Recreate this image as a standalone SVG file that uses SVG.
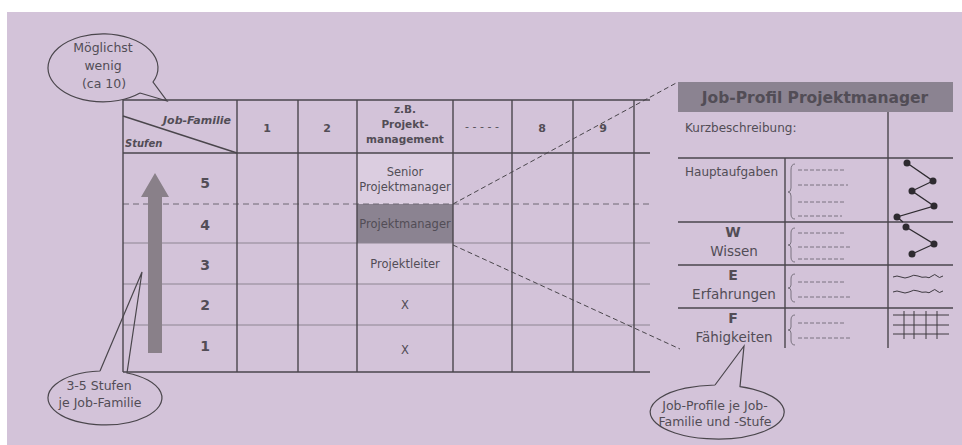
<svg xmlns="http://www.w3.org/2000/svg" width="962" height="445" viewBox="0 0 962 445">
  <style>
    text { font-family: "DejaVu Sans", "Liberation Sans", sans-serif; fill: #524d56; }
    .grid { stroke: #4a464c; stroke-width: 1.4; fill: none; }
    .row { stroke: #8d8592; stroke-width: 1; fill: none; }
    .rowdash { stroke: #6f6874; stroke-width: 1; stroke-dasharray: 6 4; fill: none; }
    .conn { stroke: #4a464c; stroke-width: 1; stroke-dasharray: 5 3; fill: none; }
    .balloon { stroke: #4a464c; stroke-width: 1.2; fill: none; }
    .ph { stroke: #7a7380; stroke-width: 1; stroke-dasharray: 4 2; fill: none; }
    .brace { stroke: #7a7380; stroke-width: 1; fill: none; }
    .num { font-size: 14px; font-weight: bold; text-anchor: middle; }
    .hnum { font-size: 11px; font-weight: bold; text-anchor: middle; }
    .cell { font-size: 11.5px; text-anchor: middle; }
    .bt { font-size: 12.5px; text-anchor: middle; }
    .pl { font-size: 12px; }
    .pc { font-size: 13.5px; text-anchor: middle; }
    .pk { font-size: 14px; font-weight: bold; text-anchor: middle; }
  </style>

  <!-- page -->
  <rect x="0" y="0" width="962" height="445" fill="#ffffff"/>
  <rect x="7" y="12" width="955" height="433" fill="#d3c3d9"/>

  <!-- job family / level matrix -->
  <g id="matrix">
    <!-- highlighted cells -->
    <rect x="357" y="153" width="96" height="51" fill="#dbcde0"/>
    <rect x="357" y="243" width="96" height="41" fill="#d7c9dc"/>
    <rect x="357" y="204" width="96" height="39" fill="#8b8391"/>
    <!-- body row separators -->
    <line class="rowdash" x1="123" y1="204" x2="650" y2="204"/>
    <line class="row" x1="123" y1="243" x2="650" y2="243"/>
    <line class="row" x1="123" y1="284" x2="650" y2="284"/>
    <line class="row" x1="123" y1="325" x2="650" y2="325"/>
    <!-- frame -->
    <line class="grid" x1="123" y1="100" x2="650" y2="100"/>
    <line class="grid" x1="123" y1="153" x2="650" y2="153"/>
    <line class="grid" x1="123" y1="372" x2="650" y2="372"/>
    <line class="grid" x1="123" y1="100" x2="123" y2="372"/>
    <line class="grid" x1="237" y1="100" x2="237" y2="372"/>
    <line class="grid" x1="298" y1="100" x2="298" y2="372"/>
    <line class="grid" x1="357" y1="100" x2="357" y2="372"/>
    <line class="grid" x1="453" y1="100" x2="453" y2="372"/>
    <line class="grid" x1="512" y1="100" x2="512" y2="372"/>
    <line class="grid" x1="573" y1="100" x2="573" y2="372"/>
    <line class="grid" x1="634" y1="100" x2="634" y2="372"/>
    <line class="grid" x1="123" y1="116" x2="237" y2="153" stroke-width="1.2"/>

    <!-- header -->
    <text x="231" y="124" font-size="11px" font-weight="bold" font-style="italic" text-anchor="end">Job-Familie</text>
    <text x="125" y="147" font-size="10px" font-weight="bold" font-style="italic">Stufen</text>
    <text class="hnum" x="267" y="132">1</text>
    <text class="hnum" x="327" y="132">2</text>
    <text x="405" y="113" font-size="10.5px" font-weight="bold" text-anchor="middle">z.B.</text>
    <text x="405" y="128" font-size="10.5px" font-weight="bold" text-anchor="middle">Projekt-</text>
    <text x="405" y="143" font-size="10.5px" font-weight="bold" text-anchor="middle">management</text>
    <text x="482" y="130" font-size="11px" fill="#7a7380" text-anchor="middle">- - - - -</text>
    <text class="hnum" x="542" y="132">8</text>
    <text class="hnum" x="603" y="132">9</text>

    <!-- level arrow -->
    <path d="M148,353 L148,197 L141,197 L155,173 L169,197 L162,197 L162,353 Z" fill="#898089"/>

    <!-- levels -->
    <text class="num" x="205" y="188">5</text>
    <text class="num" x="205" y="230">4</text>
    <text class="num" x="205" y="270">3</text>
    <text class="num" x="205" y="310">2</text>
    <text class="num" x="205" y="351">1</text>

    <!-- example column -->
    <text class="cell" x="405" y="176">Senior</text>
    <text class="cell" x="405" y="191">Projektmanager</text>
    <text class="cell" x="405" y="228" fill="#3e3a41">Projektmanager</text>
    <text class="cell" x="405" y="268">Projektleiter</text>
    <text class="cell" x="405" y="309">X</text>
    <text class="cell" x="405" y="354">X</text>
  </g>

  <!-- job profile card -->
  <g id="profile">
    <rect x="678" y="82" width="275" height="30" fill="#8b8391"/>
    <text x="815" y="103" font-size="15.5px" font-weight="bold" fill="#e4dbe6" text-anchor="middle">Job-Profil Projektmanager</text>
    <line class="grid" x1="678" y1="158" x2="953" y2="158"/>
    <line class="grid" x1="678" y1="222" x2="953" y2="222"/>
    <line class="grid" x1="678" y1="265" x2="953" y2="265"/>
    <line class="grid" x1="678" y1="308" x2="953" y2="308"/>
    <line class="grid" x1="888" y1="112" x2="888" y2="348"/>
    <line class="grid" x1="785" y1="158" x2="785" y2="348"/>

    <text class="pl" x="685" y="132">Kurzbeschreibung:</text>
    <text class="pl" x="685" y="176">Hauptaufgaben</text>
    <text class="pk" x="733" y="237">W</text>
    <text class="pc" x="734" y="256">Wissen</text>
    <text class="pk" x="733" y="280">E</text>
    <text class="pc" x="734" y="299">Erfahrungen</text>
    <text class="pk" x="733" y="323">F</text>
    <text class="pc" x="734" y="342">Fähigkeiten</text>

    <!-- placeholder lists -->
    <path class="brace" d="M795,164 Q791,164 791,170 L791,188 Q791,192 788,192 Q791,192 791,196 L791,214 Q791,219 795,219"/>
    <line class="ph" x1="798" y1="170" x2="846" y2="170"/>
    <line class="ph" x1="798" y1="185" x2="848" y2="185"/>
    <line class="ph" x1="798" y1="202" x2="846" y2="202"/>
    <line class="ph" x1="798" y1="216" x2="842" y2="216"/>
    <path class="brace" d="M795,228 Q791,228 791,233 L791,242 Q791,245 788,245 Q791,245 791,248 L791,257 Q791,262 795,262"/>
    <line class="ph" x1="798" y1="233" x2="846" y2="233"/>
    <line class="ph" x1="798" y1="247" x2="850" y2="247"/>
    <line class="ph" x1="798" y1="259" x2="846" y2="259"/>
    <path class="brace" d="M795,274 Q791,274 791,279 L791,285 Q791,288 788,288 Q791,288 791,291 L791,297 Q791,302 795,302"/>
    <line class="ph" x1="798" y1="282" x2="846" y2="282"/>
    <line class="ph" x1="798" y1="297" x2="850" y2="297"/>
    <path class="brace" d="M795,315 Q791,315 791,320 L791,327 Q791,330 788,330 Q791,330 791,333 L791,340 Q791,345 795,345"/>
    <line class="ph" x1="798" y1="323" x2="846" y2="323"/>
    <line class="ph" x1="798" y1="338" x2="850" y2="338"/>

    <!-- profile glyphs -->
    <g stroke="#2e2b30" stroke-width="1.3" fill="none">
      <polyline points="907,163 933,181 912,191 934,206 897,217 903,222"/>
      <polyline points="906,227 934,244 912,254"/>
    </g>
    <g fill="#2e2b30">
      <circle cx="907" cy="163" r="3.5"/>
      <circle cx="933" cy="181" r="3.5"/>
      <circle cx="912" cy="191" r="3.5"/>
      <circle cx="934" cy="206" r="3.5"/>
      <circle cx="897" cy="217" r="3.5"/>
      <circle cx="906" cy="227" r="3.5"/>
      <circle cx="934" cy="244" r="3.5"/>
      <circle cx="912" cy="254" r="3.5"/>
    </g>
    <g stroke="#3e3a41" stroke-width="1" fill="none">
      <path d="M893,277 q4,-2 8,0 t8,0 q5,-3 9,-1 t8,1 q3,2 6,-1 t5,0 t6,0"/>
      <path d="M893,292 q4,-2 8,0 t8,0 q5,-3 9,-1 t8,1 q3,2 6,-1 t5,0 t6,0"/>
      <line x1="893" y1="315" x2="949" y2="315"/>
      <line x1="893" y1="325" x2="949" y2="325"/>
      <line x1="893" y1="334" x2="949" y2="334"/>
      <line x1="904" y1="311" x2="904" y2="339"/>
      <line x1="914" y1="311" x2="914" y2="339"/>
      <line x1="926" y1="311" x2="926" y2="339"/>
      <line x1="937" y1="311" x2="937" y2="339"/>
    </g>
  </g>

  <!-- callouts -->
  <g id="callout-families">
    <path class="balloon" d="M140,93 L167,101 L153,82 A55,34 0 1 0 140,93"/>
    <text class="bt" x="103" y="52">Möglichst</text>
    <text class="bt" x="103" y="70">wenig</text>
    <text class="bt" x="104" y="88">(ca 10)</text>
  </g>
  <g id="callout-levels">
    <path class="balloon" d="M100,371 L142,272 L127,373 A57,27 0 1 1 100,371"/>
    <text class="bt" x="99" y="390">3-5 Stufen</text>
    <text class="bt" x="100" y="407">je Job-Familie</text>
  </g>
  <g id="callout-profiles">
    <path class="balloon" d="M715,385 L744,346 L740,386.6 A67,27 0 1 1 715,385"/>
    <text class="bt" x="715" y="410">Job-Profile je Job-</text>
    <text class="bt" x="715" y="426">Familie und -Stufe</text>
  </g>

  <!-- connectors from highlighted cell to the profile card -->
  <g id="connectors">
    <line class="conn" x1="453" y1="204" x2="678" y2="82"/>
    <line class="conn" x1="453" y1="245" x2="680" y2="349"/>
  </g>
</svg>
